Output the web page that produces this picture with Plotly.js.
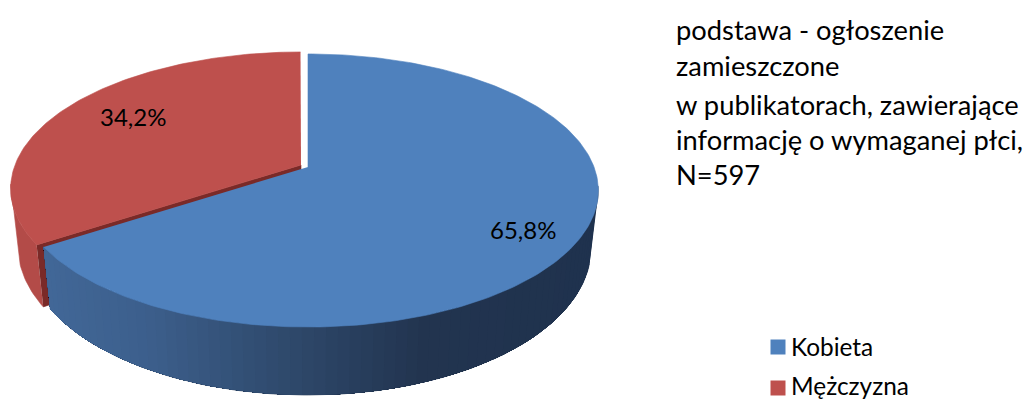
<!DOCTYPE html>
<html><head><meta charset="utf-8">
<script src="https://cdn.plot.ly/plotly-3.0.1.min.js"></script>
<style>html,body{margin:0;padding:0;background:#fff}</style>
</head><body><div id="c" style="width:1031px;height:400px"></div>
<script>
const categories = ['Kobieta', 'Mężczyzna'];
const values = [65.8, 34.2];
const valueLabels = ['65,8%', '34,2%'];
const noteLines = ['podstawa - ogłoszenie', 'zamieszczone', 'w publikatorach, zawierające', 'informację o wymaganej płci,', 'N=597'];
const topColors = ['#4F81BD', '#BE504D'];
const cutColor = '#7A2A28';
const redWall = '#B34B48';
// perspective projection of the pie disc
const K = 0.172, SY = 132.5, SX = 286, DEPTH = 56, BX = 0.975, BY = 1.075;
const apex = [[308, 167], [301, 165]];
const FONT = 'Lato, Carlito, sans-serif';

function rim(i, deg, bottom) {
  const t = deg * Math.PI / 180, X = Math.sin(t), Y = Math.cos(t), w = 1 + K * Y;
  const px = SX * X / w, py = -SY * Y / w;
  return bottom ? [apex[i][0] + BX * px, apex[i][1] + DEPTH + BY * py]
                : [apex[i][0] + px, apex[i][1] + py];
}
function poly(pts, color, lw) {
  return {type: 'scatter', mode: 'lines', x: pts.map(p => p[0]), y: pts.map(p => p[1]),
    fill: 'toself', fillcolor: color, line: {color: color, width: lw === undefined ? 0.6 : lw},
    hoverinfo: 'skip', showlegend: false};
}
function lerpColor(stops, x) {
  let i = 0; while (i < stops.length - 2 && x > stops[i + 1][0]) i++;
  const a = stops[i], b = stops[i + 1], f = Math.max(0, Math.min(1, (x - a[0]) / (b[0] - a[0])));
  return 'rgb(' + [1, 2, 3].map(k => Math.round(a[k] + (b[k] - a[k]) * f)).join(',') + ')';
}
const wallStops = [[40, 66, 104, 152], [150, 60, 95, 140], [300, 46, 72, 106], [430, 34, 52, 79], [600, 31, 50, 78]];

const end = values[0] / 100 * 360;
const traces = [];
// red slice: wall, cut face, top
const rw = [];
for (let d = end; d <= 262; d += 1) rw.push(rim(1, d, false));
for (let d = 255; d >= end; d -= 1) rw.push(rim(1, d, true));
rw.push(rim(1, end, true));
traces.push(poly(rw, redWall));
traces.push(poly([rim(1, end, false), apex[1], [apex[1][0], apex[1][1] + DEPTH], rim(1, end, true)], cutColor));
const rt = [apex[1]];
for (let d = end; d <= 360; d += 1) rt.push(rim(1, d, false));
traces.push(poly(rt, topColors[1]));
// blue slice: wall base with tangent silhouette, then overlapping shaded strips, then top
const base = [];
for (let d = 98; d <= end; d += 1) base.push(rim(0, d, false));
base.push(rim(0, end, false), rim(0, end, true));
for (let d = end; d >= 105; d -= 1) base.push(rim(0, d, true));
traces.push(poly(base, lerpColor(wallStops, 600), 0.6));
for (let d = 105; d < end; d += 2) {
  const pts = [];
  for (let e = d; e < end; e += 2) pts.push(rim(0, e, false));
  pts.push(rim(0, end, false), rim(0, end, true));
  for (let e = end - 0.001; e >= d; e -= 2) pts.push(rim(0, e, true));
  pts.push(rim(0, d, true));
  traces.push(poly(pts, lerpColor(wallStops, rim(0, d, false)[0]), 0));
}
const bt = [apex[0]];
for (let d = 0; d <= end; d += 1) bt.push(rim(0, d, false));
bt.push(rim(0, end, false));
traces.push(poly(bt, topColors[0]));
// legend swatches
traces.push({type: 'scatter', mode: 'markers', x: [778, 778], y: [347, 388], text: categories,
  marker: {symbol: 'square', size: 15, color: topColors}, hoverinfo: 'text', showlegend: false});

const ann = (x, y, text, size) => ({xref: 'x', yref: 'y', x, y, text, showarrow: false,
  xanchor: 'left', yanchor: 'middle', align: 'left', font: {family: FONT, size, color: '#000'}});
const annotations = [
  ann(488, 229, valueLabels[0], 24),
  ann(98, 116, valueLabels[1], 24),
  ann(789, 346, categories[0], 24.4),
  ann(789, 385, categories[1], 24.4)
];
const noteY = [29, 65, 104, 139, 174];
noteLines.forEach((t, i) => annotations.push(ann(674, noteY[i], t, 27.3)));

Plotly.newPlot('c', traces, {
  width: 1031, height: 400, margin: {l: 0, r: 0, t: 0, b: 0},
  paper_bgcolor: '#fff', plot_bgcolor: '#fff', showlegend: false,
  xaxis: {range: [0, 1031], visible: false, fixedrange: true},
  yaxis: {range: [400, 0], visible: false, fixedrange: true},
  annotations
}, {displayModeBar: false, staticPlot: true});
</script></body></html>
